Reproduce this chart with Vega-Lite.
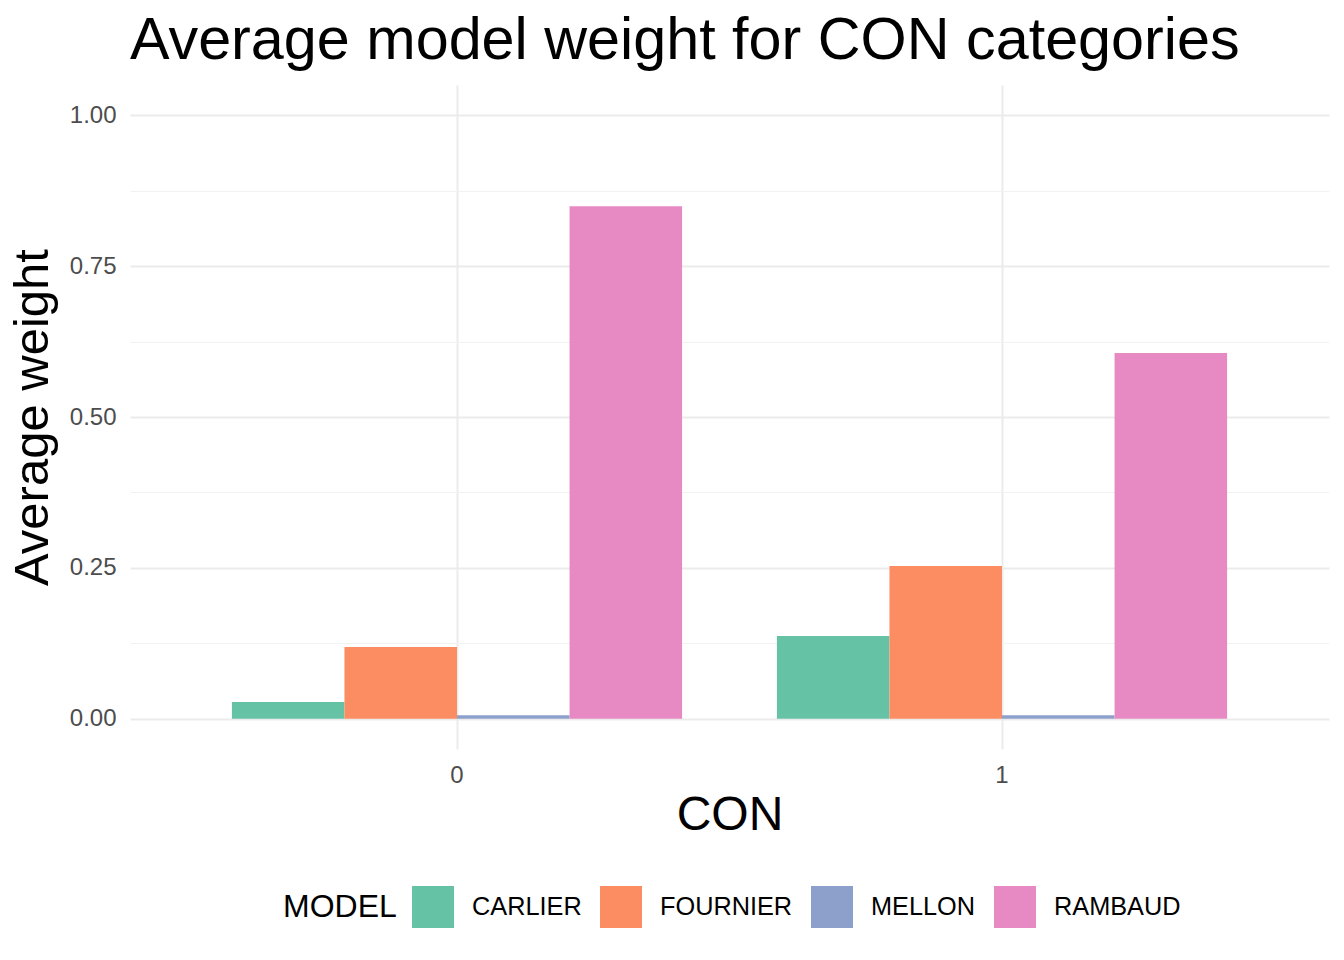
{
  "$schema": "https://vega.github.io/schema/vega-lite/v6.json",
  "width": 1199,
  "height": 664,
  "autosize": "none",
  "padding": {"left": 130, "top": 85, "right": 15, "bottom": 211},
  "background": "white",
  "config": {
    "view": {"stroke": null},
    "font": "Liberation Sans",
    "axis": {"domain": false, "ticks": false, "tickSize": 0, "labelFont": "Liberation Sans", "titleFont": "Liberation Sans"}
  },
  "title": {
    "text": "Average model weight for CON categories",
    "anchor": "start",
    "frame": "group",
    "fontSize": 59.3,
    "fontWeight": "normal",
    "color": "black",
    "font": "Liberation Sans",
    "offset": 14
  },
  "data": {
    "values": [
      {"CON": "0", "MODEL": "CARLIER", "weight": 0.028},
      {"CON": "0", "MODEL": "FOURNIER", "weight": 0.119},
      {"CON": "0", "MODEL": "MELLON", "weight": 0.006},
      {"CON": "0", "MODEL": "RAMBAUD", "weight": 0.849},
      {"CON": "1", "MODEL": "CARLIER", "weight": 0.137},
      {"CON": "1", "MODEL": "FOURNIER", "weight": 0.253},
      {"CON": "1", "MODEL": "MELLON", "weight": 0.006},
      {"CON": "1", "MODEL": "RAMBAUD", "weight": 0.606}
    ]
  },
  "layer": [
    {
      "mark": {"type": "bar", "opacity": 0},
      "encoding": {
        "x": {"field": "CON", "type": "nominal"},
        "xOffset": {"field": "MODEL", "type": "nominal"},
        "y": {
          "field": "weight",
          "type": "quantitative",
          "axis": {
            "orient": "left",
            "values": [0.125, 0.375, 0.625, 0.875],
            "labels": false,
            "title": null,
            "grid": true,
            "gridColor": "#F2F2F2",
            "gridWidth": 1
          }
        }
      }
    },
    {
      "mark": {"type": "bar"},
      "encoding": {
        "x": {
          "field": "CON",
          "type": "nominal",
          "scale": {"paddingInner": 0.174, "paddingOuter": 0.187},
          "axis": {
            "labelAngle": 0,
            "labelAlign": "center",
            "labelFontSize": 24,
            "labelColor": "#4D4D4D",
            "labelPadding": 26,
            "labelDx": 6,
            "title": "CON",
            "titleFontSize": 48,
            "titleFontWeight": "normal",
            "titleColor": "black",
            "titlePadding": 4,
            "grid": true,
            "gridColor": "#EBEBEB",
            "gridWidth": 2,
            "bandPosition": 0.5
          }
        },
        "xOffset": {"field": "MODEL", "type": "nominal", "scale": {"paddingInner": 0, "paddingOuter": 0}},
        "y": {
          "field": "weight",
          "type": "quantitative",
          "scale": {"domain": [-0.05, 1.05], "nice": false, "zero": false},
          "axis": {
            "orient": "left",
            "values": [0, 0.25, 0.5, 0.75, 1],
            "format": ".2f",
            "labelFontSize": 24,
            "labelColor": "#4D4D4D",
            "labelPadding": 14,
            "title": "Average weight",
            "titleFontSize": 49,
            "titleFontWeight": "normal",
            "titleColor": "black",
            "titlePadding": 12,
            "grid": true,
            "gridColor": "#EBEBEB",
            "gridWidth": 2
          }
        },
        "color": {
          "field": "MODEL",
          "type": "nominal",
          "scale": {"domain": ["CARLIER", "FOURNIER", "MELLON", "RAMBAUD"], "range": ["#66C2A5", "#FC8D62", "#8DA0CB", "#E78AC3"]},
          "legend": {
            "orient": "none",
            "legendX": 153,
            "legendY": 801,
            "direction": "horizontal",
            "title": "MODEL",
            "titleOrient": "left",
            "titleFontSize": 32,
            "titleFontWeight": "normal",
            "titleColor": "black",
            "titlePadding": 15,
            "titleBaseline": "middle",
            "labelFontSize": 25.3,
            "labelColor": "black",
            "labelOffset": 18,
            "columnPadding": 18,
            "symbolType": "square",
            "symbolSize": 1764,
            "symbolStrokeWidth": 0,
            "symbolOpacity": 1
          }
        }
      }
    }
  ],
  "resolve": {"axis": {"y": "independent"}}
}
